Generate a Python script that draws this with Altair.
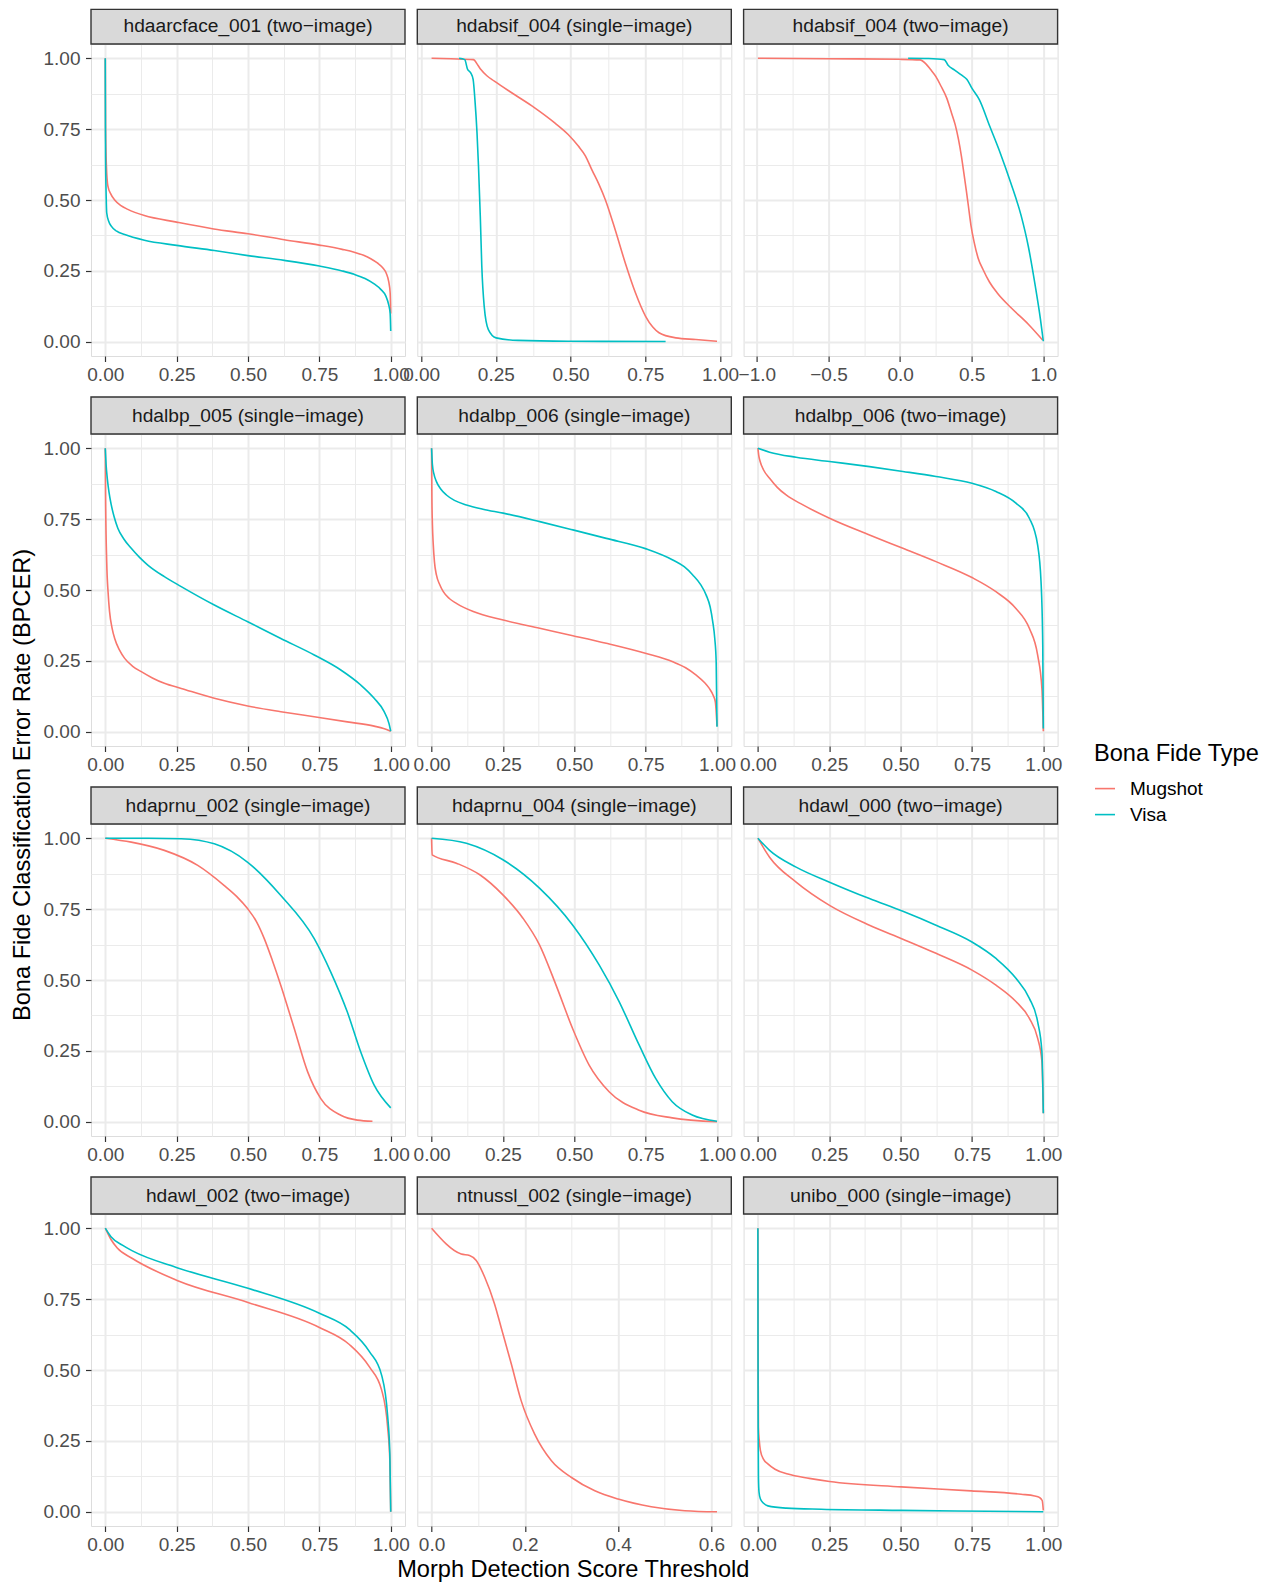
import math
import altair as alt
import pandas as pd

FONT = "Liberation Sans"
TYPES = ["Mugshot", "Visa"]
COLORS = ["#F8766D", "#00BFC4"]

TITLES = [
    "hdaarcface_001 (two\u2212image)",
    "hdabsif_004 (single\u2212image)",
    "hdabsif_004 (two\u2212image)",
    "hdalbp_005 (single\u2212image)",
    "hdalbp_006 (single\u2212image)",
    "hdalbp_006 (two\u2212image)",
    "hdaprnu_002 (single\u2212image)",
    "hdaprnu_004 (single\u2212image)",
    "hdawl_000 (two\u2212image)",
    "hdawl_002 (two\u2212image)",
    "ntnussl_002 (single\u2212image)",
    "unibo_000 (single\u2212image)",
]

# ---- data (x = threshold, y = BPCER) ----
P1_MUG_X = [0.0, 0.001, 0.004, 0.009, 0.02, 0.033, 0.055, 0.079, 0.137, 0.25, 0.38, 0.5, 0.627, 0.75, 0.83, 0.872, 0.905, 0.93, 0.953, 0.972, 0.985, 0.993, 0.998, 1.0]
P1_MUG_Y = [1.0, 0.75, 0.62, 0.55, 0.52, 0.50, 0.48, 0.467, 0.445, 0.422, 0.398, 0.381, 0.36, 0.341, 0.326, 0.316, 0.305, 0.293, 0.278, 0.261, 0.24, 0.212, 0.173, 0.10]
P1_VISA_X = [0.0, 0.0005, 0.001, 0.003, 0.005, 0.012, 0.021, 0.04, 0.068, 0.137, 0.25, 0.382, 0.5, 0.627, 0.75, 0.83, 0.872, 0.91, 0.942, 0.965, 0.983, 0.993, 0.998, 1.0]
P1_VISA_Y = [1.0, 0.8, 0.65, 0.52, 0.455, 0.425, 0.408, 0.39, 0.378, 0.358, 0.34, 0.322, 0.304, 0.287, 0.267, 0.25, 0.238, 0.223, 0.204, 0.185, 0.161, 0.13, 0.10, 0.038]

P2_MUG_X = [0.035, 0.1, 0.175, 0.19, 0.2, 0.22, 0.245, 0.312, 0.38, 0.447, 0.492, 0.526, 0.55, 0.571, 0.595, 0.616, 0.649, 0.683, 0.717, 0.751, 0.775, 0.796, 0.852, 0.919, 0.99]
P2_MUG_Y = [1.0, 0.998, 0.995, 0.975, 0.96, 0.938, 0.919, 0.872, 0.825, 0.772, 0.731, 0.69, 0.655, 0.607, 0.555, 0.502, 0.396, 0.278, 0.173, 0.09, 0.052, 0.032, 0.014, 0.008, 0.002]
P2_VISA_X = [0.127, 0.146, 0.155, 0.166, 0.174, 0.18, 0.187, 0.192, 0.198, 0.203, 0.211, 0.225, 0.251, 0.324, 0.492, 0.818]
P2_VISA_Y = [1.0, 0.995, 0.962, 0.948, 0.925, 0.854, 0.737, 0.619, 0.443, 0.267, 0.126, 0.043, 0.014, 0.005, 0.002, 0.001]

P3_MUG_X = [-0.993, -0.5, 0.0, 0.139, 0.18, 0.213, 0.25, 0.286, 0.325, 0.359, 0.385, 0.408, 0.428, 0.445, 0.462, 0.477, 0.495, 0.518, 0.545, 0.579, 0.625, 0.677, 0.775, 0.897, 0.995]
P3_MUG_Y = [1.0, 0.998, 0.996, 0.994, 0.98, 0.96, 0.935, 0.901, 0.86, 0.807, 0.765, 0.713, 0.655, 0.596, 0.535, 0.478, 0.41, 0.349, 0.295, 0.255, 0.21, 0.173, 0.12, 0.061, 0.006]
P3_VISA_X = [0.056, 0.2, 0.308, 0.335, 0.381, 0.43, 0.467, 0.5, 0.553, 0.626, 0.699, 0.773, 0.846, 0.895, 0.944, 0.98, 1.0]
P3_VISA_Y = [1.0, 0.999, 0.995, 0.975, 0.958, 0.94, 0.925, 0.895, 0.854, 0.76, 0.666, 0.56, 0.443, 0.337, 0.196, 0.079, 0.002]

P4_MUG_X = [0.0, 0.001, 0.005, 0.01, 0.015, 0.024, 0.033, 0.05, 0.068, 0.095, 0.126, 0.165, 0.207, 0.266, 0.382, 0.499, 0.615, 0.732, 0.848, 0.942, 0.975, 1.0]
P4_MUG_Y = [1.0, 0.835, 0.6, 0.49, 0.424, 0.365, 0.329, 0.288, 0.259, 0.232, 0.212, 0.19, 0.171, 0.153, 0.118, 0.091, 0.071, 0.053, 0.035, 0.02, 0.012, 0.002]
P4_VISA_X = [0.0, 0.003, 0.007, 0.013, 0.021, 0.031, 0.044, 0.065, 0.091, 0.12, 0.149, 0.207, 0.266, 0.382, 0.499, 0.615, 0.732, 0.825, 0.895, 0.942, 0.977, 0.994, 1.0]
P4_VISA_Y = [1.0, 0.94, 0.894, 0.845, 0.8, 0.758, 0.718, 0.68, 0.647, 0.615, 0.588, 0.547, 0.512, 0.447, 0.388, 0.329, 0.271, 0.218, 0.165, 0.118, 0.071, 0.029, 0.002]

P5_MUG_X = [0.0, 0.001, 0.003, 0.006, 0.01, 0.017, 0.028, 0.041, 0.062, 0.087, 0.146, 0.251, 0.379, 0.495, 0.612, 0.752, 0.845, 0.89, 0.927, 0.955, 0.973, 0.986, 0.994, 1.0]
P5_MUG_Y = [1.0, 0.835, 0.73, 0.659, 0.6, 0.553, 0.52, 0.494, 0.47, 0.453, 0.424, 0.394, 0.365, 0.339, 0.312, 0.276, 0.247, 0.226, 0.2, 0.175, 0.153, 0.13, 0.106, 0.02]
P5_VISA_X = [0.0, 0.003, 0.008, 0.017, 0.032, 0.052, 0.08, 0.122, 0.18, 0.251, 0.379, 0.495, 0.612, 0.752, 0.845, 0.885, 0.915, 0.942, 0.962, 0.976, 0.985, 0.992, 0.997, 1.0]
P5_VISA_Y = [1.0, 0.941, 0.91, 0.882, 0.856, 0.835, 0.816, 0.8, 0.785, 0.771, 0.741, 0.712, 0.682, 0.645, 0.606, 0.582, 0.553, 0.52, 0.482, 0.44, 0.388, 0.33, 0.247, 0.018]

P6_MUG_X = [0.0, 0.003, 0.008, 0.02, 0.041, 0.068, 0.099, 0.158, 0.251, 0.391, 0.508, 0.624, 0.75, 0.834, 0.904, 0.951, 0.98, 0.995, 1.0]
P6_MUG_Y = [1.0, 0.975, 0.953, 0.923, 0.894, 0.862, 0.835, 0.8, 0.753, 0.694, 0.647, 0.6, 0.544, 0.494, 0.435, 0.365, 0.271, 0.153, 0.002]
P6_VISA_X = [0.0, 0.041, 0.134, 0.251, 0.391, 0.508, 0.624, 0.75, 0.834, 0.904, 0.951, 0.98, 0.992, 0.998, 1.0]
P6_VISA_Y = [1.0, 0.986, 0.968, 0.953, 0.935, 0.918, 0.9, 0.876, 0.847, 0.806, 0.753, 0.659, 0.529, 0.306, 0.012]

P7_MUG_X = [0.0, 0.091, 0.207, 0.324, 0.417, 0.46, 0.499, 0.53, 0.557, 0.585, 0.615, 0.662, 0.709, 0.755, 0.825, 0.883, 0.936]
P7_MUG_Y = [1.0, 0.986, 0.957, 0.904, 0.833, 0.795, 0.751, 0.705, 0.646, 0.57, 0.481, 0.329, 0.176, 0.082, 0.023, 0.006, 0.002]
P7_VISA_X = [0.0, 0.15, 0.266, 0.382, 0.499, 0.615, 0.732, 0.79, 0.848, 0.895, 0.942, 1.0]
P7_VISA_Y = [1.0, 1.0, 0.998, 0.98, 0.915, 0.798, 0.646, 0.528, 0.387, 0.246, 0.129, 0.049]

P8_MUG_X = [0.0, 0.002, 0.087, 0.169, 0.25, 0.32, 0.378, 0.436, 0.494, 0.552, 0.622, 0.727, 0.843, 1.0]
P8_MUG_Y = [1.0, 0.941, 0.912, 0.871, 0.8, 0.718, 0.624, 0.482, 0.329, 0.2, 0.106, 0.041, 0.014, 0.0]
P8_VISA_X = [0.0, 0.122, 0.25, 0.378, 0.494, 0.587, 0.657, 0.727, 0.785, 0.843, 0.913, 1.0]
P8_VISA_Y = [1.0, 0.982, 0.924, 0.824, 0.694, 0.553, 0.424, 0.271, 0.153, 0.071, 0.024, 0.002]

P9_MUG_X = [0.0, 0.041, 0.134, 0.251, 0.391, 0.508, 0.624, 0.75, 0.834, 0.904, 0.951, 0.98, 0.995, 1.0]
P9_MUG_Y = [1.0, 0.933, 0.845, 0.763, 0.693, 0.644, 0.594, 0.535, 0.482, 0.424, 0.365, 0.295, 0.213, 0.03]
P9_VISA_X = [0.0, 0.041, 0.134, 0.251, 0.391, 0.508, 0.624, 0.75, 0.834, 0.904, 0.951, 0.98, 0.995, 1.0]
P9_VISA_Y = [1.0, 0.957, 0.898, 0.845, 0.787, 0.742, 0.693, 0.634, 0.576, 0.506, 0.435, 0.353, 0.248, 0.03]

P10_MUG_X = [0.0, 0.02, 0.042, 0.095, 0.254, 0.5, 0.75, 0.855, 0.926, 0.968, 0.989, 0.997, 1.0]
P10_MUG_Y = [1.0, 0.96, 0.93, 0.893, 0.815, 0.738, 0.65, 0.59, 0.51, 0.43, 0.30, 0.18, 0.0]
P10_VISA_X = [0.0, 0.02, 0.06, 0.095, 0.254, 0.5, 0.75, 0.855, 0.926, 0.968, 0.989, 0.997, 1.0]
P10_VISA_Y = [1.0, 0.97, 0.94, 0.92, 0.86, 0.788, 0.7, 0.643, 0.564, 0.482, 0.34, 0.2, 0.0]

P11_MUG_X = [0.0, 0.0636, 0.0815, 0.0958, 0.114, 0.135, 0.149, 0.171, 0.192, 0.221, 0.257, 0.3, 0.35, 0.4, 0.471, 0.543, 0.612]
P11_MUG_Y = [1.0, 0.909, 0.904, 0.886, 0.827, 0.733, 0.651, 0.521, 0.392, 0.274, 0.18, 0.121, 0.074, 0.045, 0.018, 0.004, 0.0]
P11_VISA_X = []
P11_VISA_Y = []

P12_MUG_X = [0.0, 0.001, 0.002, 0.005, 0.009, 0.02, 0.035, 0.06, 0.105, 0.18, 0.251, 0.502, 0.747, 0.922, 0.97, 0.986, 0.996, 1.0]
P12_MUG_Y = [1.0, 0.5, 0.298, 0.25, 0.216, 0.185, 0.169, 0.15, 0.133, 0.118, 0.107, 0.088, 0.074, 0.062, 0.056, 0.051, 0.04, 0.005]
P12_VISA_X = [0.0, 0.0005, 0.001, 0.002, 0.004, 0.009, 0.02, 0.035, 0.1, 0.222, 0.502, 0.805, 1.0]
P12_VISA_Y = [1.0, 0.6, 0.298, 0.122, 0.07, 0.045, 0.03, 0.021, 0.013, 0.009, 0.005, 0.002, 0.0]

SERIES = [
    (P1_MUG_X, P1_MUG_Y, P1_VISA_X, P1_VISA_Y),
    (P2_MUG_X, P2_MUG_Y, P2_VISA_X, P2_VISA_Y),
    (P3_MUG_X, P3_MUG_Y, P3_VISA_X, P3_VISA_Y),
    (P4_MUG_X, P4_MUG_Y, P4_VISA_X, P4_VISA_Y),
    (P5_MUG_X, P5_MUG_Y, P5_VISA_X, P5_VISA_Y),
    (P6_MUG_X, P6_MUG_Y, P6_VISA_X, P6_VISA_Y),
    (P7_MUG_X, P7_MUG_Y, P7_VISA_X, P7_VISA_Y),
    (P8_MUG_X, P8_MUG_Y, P8_VISA_X, P8_VISA_Y),
    (P9_MUG_X, P9_MUG_Y, P9_VISA_X, P9_VISA_Y),
    (P10_MUG_X, P10_MUG_Y, P10_VISA_X, P10_VISA_Y),
    (P11_MUG_X, P11_MUG_Y, P11_VISA_X, P11_VISA_Y),
    (P12_MUG_X, P12_MUG_Y, P12_VISA_X, P12_VISA_Y),
]

# x-axis break step and label format per panel
X_STEPS = [0.25, 0.25, 0.5, 0.25, 0.25, 0.25, 0.25, 0.25, 0.25, 0.25, 0.2, 0.25]
X_FORMATS = [".2f", ".2f", ".1f", ".2f", ".2f", ".2f", ".2f", ".2f", ".2f", ".2f", ".1f", ".2f"]

Y_TITLE = "Bona Fide Classification Error Rate (BPCER)"
X_TITLE = "Morph Detection Score Threshold"
LEGEND_TITLE = "Bona Fide Type"

# ---- layout / style ----
W, H = 314, 312
STRIP_H = 37
TOP_TRIM = 2.4          # the page margin sits lower than the reference's top strip edge
COL_GAP = 12.3
ROW_GAP = 78
GRID_COLOR = "#EBEBEB"
BORDER = "#333333"
LABEL_COLOR = "#4D4D4D"
TICK_FS = 19.0
STRIP_FS = 19.2
TITLE_FS = 23.6


def major_test(step):
    return f"abs(datum.value/{step} - round(datum.value/{step})) < 1e-6"


def axis_values(dom, step):
    half = step / 2.0
    start = math.ceil(dom[0] / half - 1e-9)
    end = math.floor(dom[1] / half + 1e-9)
    return [round(k * half, 6) for k in range(start, end + 1)]


def make_axis(values, step, fmt, labels=True, pad=4):
    t = major_test(step)
    kw = dict(
        values=values,
        format=fmt,
        grid=True,
        gridColor=GRID_COLOR,
        gridWidth={"condition": {"test": t, "value": 2.0}, "value": 1.0},
        domain=False,
        labelFlush=False,
        labelOverlap=False,
    )
    if labels:
        kw.update(
            labelExpr=f"{t} ? datum.label : ''",
            labelColor=LABEL_COLOR,
            labelFontSize=TICK_FS,
            labelFont=FONT,
            labelPadding=pad,
            ticks=True,
            tickColor=BORDER,
            tickWidth=1.2,
            tickSize=5.5,
            tickOpacity={"condition": {"test": t, "value": 1}, "value": 0},
        )
    else:
        kw.update(labels=False, ticks=False)
    return alt.Axis(**kw)


legend = alt.Legend(
    orient="none",
    legendX=1003,
    legendY=698,
    title=LEGEND_TITLE,
    titleFont=FONT,
    titleFontSize=TITLE_FS,
    titleFontWeight="normal",
    titleColor="#000000",
    titlePadding=12,
    labelFont=FONT,
    labelFontSize=TICK_FS,
    labelColor="#000000",
    labelOffset=14,
    symbolType="stroke",
    symbolSize=400,
    symbolStrokeWidth=1.6,
    rowPadding=5,
)

Y_VALUES = [0.0, 0.125, 0.25, 0.375, 0.5, 0.625, 0.75, 0.875, 1.0]
Y_DOMAIN = [-0.05, 1.05]

panels = []
for idx, (title, (mx, my, vx, vy)) in enumerate(zip(TITLES, SERIES)):
    row, col = divmod(idx, 3)
    recs = []
    for k, (a, b) in enumerate(zip(mx, my)):
        recs.append({"x": a, "y": b, "type": "Mugshot", "i": k})
    for k, (a, b) in enumerate(zip(vx, vy)):
        recs.append({"x": a, "y": b, "type": "Visa", "i": k})
    df = pd.DataFrame(recs)
    xmin, xmax = float(df.x.min()), float(df.x.max())
    rng = xmax - xmin
    dom = [xmin - 0.05 * rng, xmax + 0.05 * rng]
    step = X_STEPS[idx]
    xaxis = make_axis(axis_values(dom, step), step, X_FORMATS[idx], pad=3.5)
    yaxis = make_axis(Y_VALUES, 0.25, ".2f", labels=(col == 0), pad=5.5)

    lines = alt.Chart(df).mark_line(strokeWidth=1.6, interpolate="monotone", clip=True).encode(
        x=alt.X("x:Q", scale=alt.Scale(domain=dom, nice=False, zero=False), axis=xaxis, title=None),
        y=alt.Y("y:Q", scale=alt.Scale(domain=Y_DOMAIN, nice=False, zero=False), axis=yaxis, title=None),
        color=alt.Color("type:N", scale=alt.Scale(domain=TYPES, range=COLORS), legend=legend),
        order=alt.Order("i:Q"),
    )

    strip_top = -STRIP_H + (TOP_TRIM if row == 0 else 0)
    sdf = pd.DataFrame({"label": [title]})
    strip_rect = alt.Chart(sdf).mark_rect(fill="#D9D9D9", stroke=BORDER, strokeWidth=1.4).encode(
        x=alt.value(0), x2=alt.value(W), y=alt.value(strip_top), y2=alt.value(0)
    )
    strip_text = alt.Chart(sdf).mark_text(
        font=FONT, fontSize=STRIP_FS, color="#1A1A1A", baseline="middle", align="center"
    ).encode(text="label:N", x=alt.value(W / 2), y=alt.value(-STRIP_H / 2 + 0.5))

    layers = [lines, strip_rect, strip_text]
    if idx == 3:
        tdf = pd.DataFrame({"label": [Y_TITLE]})
        layers.append(
            alt.Chart(tdf).mark_text(
                font=FONT, fontSize=TITLE_FS, color="#000000", angle=270, baseline="middle", align="center"
            ).encode(text="label:N", x=alt.value(-68), y=alt.value(351))
        )
    if idx == 10:
        tdf = pd.DataFrame({"label": [X_TITLE]})
        layers.append(
            alt.Chart(tdf).mark_text(
                font=FONT, fontSize=TITLE_FS, color="#000000", baseline="middle", align="center"
            ).encode(text="label:N", x=alt.value(W / 2 - 1), y=alt.value(355.5))
        )
    panels.append(alt.layer(*layers).properties(width=W, height=H))

chart = alt.concat(
    *panels, columns=3, spacing={"row": ROW_GAP, "column": COL_GAP}, bounds="flush"
).properties(
    padding={"left": 2, "top": 0, "right": 0, "bottom": 0}
).configure_view(
    stroke=BORDER, strokeWidth=1.4
).configure(
    font=FONT
)

chart.save("out.html", embed_options={"renderer": "svg", "actions": False})
